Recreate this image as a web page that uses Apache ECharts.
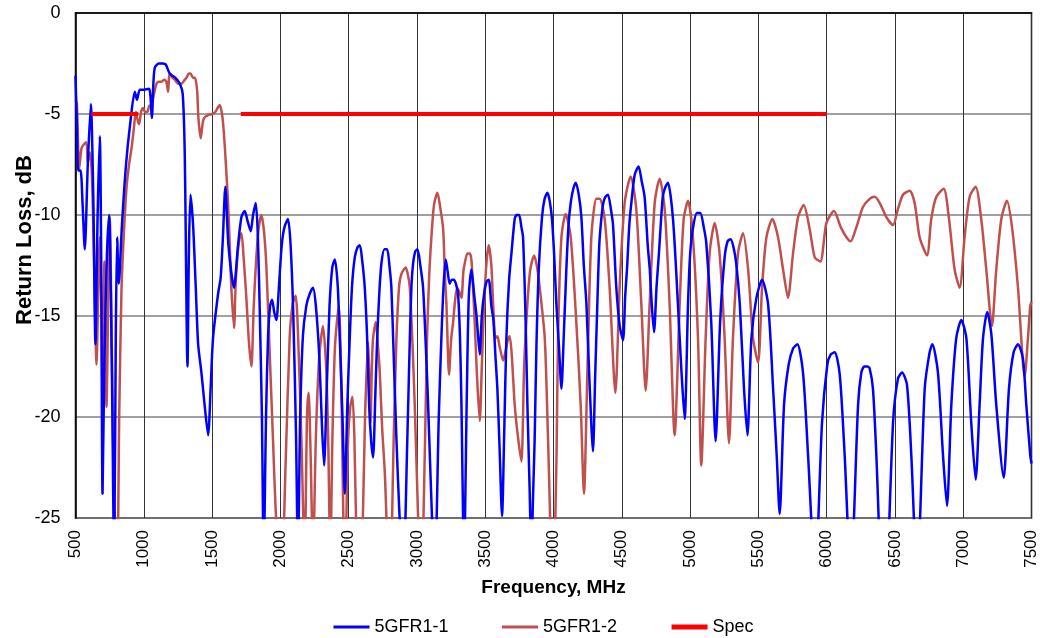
<!DOCTYPE html>
<html>
<head>
<meta charset="utf-8">
<script src="https://cdn.jsdelivr.net/npm/echarts@6/dist/echarts.min.js"></script>
<style>
  html, body { margin: 0; padding: 0; background: #fff; }
  #chart { width: 1040px; height: 638px; }
</style>
</head>
<body>
<div id="chart"></div>
<script>
// x tick values (MHz) and y tick values (dB)
const freqTicks = [500, 1000, 1500, 2000, 2500, 3000, 3500, 4000, 4500, 5000, 5500, 6000, 6500, 7000, 7500];
const lossTicks = [-25, -20, -15, -10, -5, 0];

// [frequency MHz, return loss dB]
const fr1_1 = [
  [500,-3.1],[510,-5.5],[520,-7.8],[537,-7.8],[552,-9.5],[568,-11.7],[590,-7.5],[612,-4.5],[630,-9],[646,-16.4],
  [662,-10],[678,-6.1],[688,-12],[698,-23.8],[712,-17],[730,-12],[746,-10],[765,-17],[783,-27],[795,-16],
  [805,-11.1],[817,-13.4],[840,-10.5],[870,-7.5],[900,-5.5],[934,-3.9],[950,-4.3],[971,-3.8],[1000,-3.8],[1039,-3.75],
  [1059,-5.2],[1070,-3.5],[1081,-2.7],[1110,-2.5],[1140,-2.5],[1161,-2.55],[1190,-3.0],[1230,-3.2],[1264,-3.5],[1285,-4],
  [1300,-7],[1320,-17.5],[1330,-12],[1342,-9],[1361,-10.5],[1380,-13.5],[1398,-16.4],[1422,-17.8],[1441,-19.1],[1471,-20.9],
  [1490,-18.5],[1507,-16.1],[1544,-13.9],[1563,-13.1],[1580,-11],[1597,-8.6],[1620,-11.5],[1660,-13.6],[1690,-11.5],[1715,-10.1],
  [1739,-9.8],[1760,-10.3],[1783,-10.8],[1800,-10],[1820,-9.4],[1835,-11],[1850,-15],[1865,-20],[1878,-27],[1895,-20],
  [1910,-16],[1925,-14.5],[1939,-14.2],[1955,-14.8],[1971,-15.2],[1990,-13.5],[2010,-11.5],[2030,-10.6],[2056,-10.2],[2075,-11.5],
  [2095,-15],[2115,-21],[2129,-27],[2145,-20],[2165,-16],[2190,-14.5],[2215,-13.9],[2239,-13.6],[2260,-14.5],[2285,-17],
  [2305,-20.5],[2320,-22.4],[2340,-18.5],[2360,-14.5],[2380,-12.6],[2399,-12.2],[2420,-13.5],[2435,-16.1],[2455,-20],[2472,-23.8],
  [2490,-19.5],[2508,-16.1],[2525,-13.5],[2545,-12.1],[2565,-11.6],[2582,-11.5],[2600,-12.3],[2618,-13.6],[2635,-16],[2650,-19.4],
  [2665,-21.2],[2679,-22],[2695,-19],[2709,-16.1],[2725,-13.8],[2740,-12.4],[2762,-11.7],[2782,-11.7],[2800,-12.6],[2813,-13.6],
  [2830,-17],[2850,-21.1],[2870,-24.5],[2899,-28],[2930,-21],[2948,-16.1],[2960,-13.5],[2972,-12.4],[2988,-11.8],[3004,-11.7],
  [3025,-12.5],[3045,-13.6],[3065,-16.5],[3082,-19.4],[3100,-23],[3130,-28],[3160,-20],[3179,-16.1],[3195,-13.5],[3211,-12.2],
  [3225,-12.8],[3240,-13.4],[3255,-13.2],[3270,-13.2],[3285,-13.4],[3301,-13.9],[3315,-16],[3326,-19.4],[3345,-27],[3365,-19],
  [3380,-14],[3399,-12.7],[3420,-14],[3435,-14.9],[3448,-16],[3460,-16.9],[3475,-15],[3492,-13.9],[3510,-13.3],[3526,-13.2],
  [3545,-14.5],[3560,-15.2],[3575,-17],[3589,-18.6],[3605,-21.5],[3623,-24.9],[3640,-20.5],[3655,-16.1],[3675,-13.2],[3692,-11.9],
  [3716,-10.2],[3730,-10],[3748,-10],[3765,-10.6],[3777,-11.1],[3795,-15],[3809,-19.4],[3825,-23.5],[3838,-27],[3850,-24],
  [3862,-21.1],[3875,-16.5],[3892,-12.7],[3916,-10.1],[3935,-9.2],[3955,-8.9],[3972,-9.3],[3989,-10.2],[4005,-12],[4021,-14.4],
  [4040,-16.5],[4058,-18.6],[4075,-16],[4094,-12.7],[4110,-10.5],[4126,-9.4],[4145,-8.7],[4163,-8.4],[4185,-9],[4204,-10.1],
  [4222,-12.5],[4241,-14.4],[4265,-18.5],[4289,-21.7],[4305,-18],[4321,-14.4],[4335,-11.5],[4350,-10.2],[4365,-9.4],[4380,-9.1],
  [4399,-9.0],[4420,-9.7],[4436,-10.5],[4460,-13.6],[4485,-15.5],[4509,-16.2],[4525,-14],[4538,-12.7],[4555,-10.5],[4570,-9.4],
  [4595,-8],[4623,-7.6],[4645,-8.3],[4667,-9.1],[4690,-11.5],[4705,-12.7],[4720,-14.5],[4736,-15.8],[4755,-13.5],[4772,-11.9],
  [4800,-9.1],[4820,-8.6],[4838,-8.4],[4875,-10.2],[4911,-14.4],[4935,-17.5],[4960,-20.1],[4985,-14.4],[5000,-12],[5020,-10.7],
  [5050,-9.9],[5075,-9.9],[5100,-10.6],[5119,-11.4],[5155,-15.3],[5187,-21.2],[5220,-15.3],[5253,-12.1],[5275,-11.3],[5297,-11.2],
  [5318,-11.6],[5338,-12.4],[5364,-14.4],[5395,-18.6],[5420,-20.9],[5449,-16.1],[5486,-14.1],[5527,-13.2],[5571,-14.4],[5608,-18.6],
  [5635,-22],[5656,-24.8],[5688,-19.4],[5722,-17.4],[5755,-16.6],[5786,-16.4],[5827,-17.8],[5864,-21.9],[5916,-28],[5966,-20.3],
  [6005,-17.4],[6030,-16.9],[6059,-16.8],[6096,-17.9],[6132,-21.9],[6177,-28],[6230,-19.4],[6254,-17.8],[6275,-17.5],[6298,-17.5],
  [6315,-17.6],[6339,-18.6],[6364,-21.9],[6420,-31],[6486,-20.3],[6522,-18.1],[6552,-17.8],[6588,-18.4],[6620,-21.9],[6662,-28],
  [6718,-18.6],[6754,-16.8],[6774,-16.4],[6815,-17.8],[6852,-21.9],[6881,-24.4],[6913,-19.4],[6949,-16.1],[6986,-15.2],[7023,-16.1],
  [7059,-20.3],[7091,-23.1],[7120,-19.4],[7145,-16.1],[7176,-14.8],[7206,-15.9],[7242,-19.4],[7296,-23],[7335,-18.6],[7369,-16.8],
  [7401,-16.4],[7437,-17.1],[7462,-19.4],[7491,-21.9],[7500,-22.3]
];

const fr1_2 = [
  [500,-4.3],[510,-4.5],[527,-7.7],[544,-6.7],[562,-6.5],[580,-6.4],[590,-7.4],[605,-6.9],[620,-8],[635,-12],
  [654,-17.4],[666,-14],[678,-11.1],[690,-15],[697,-18.8],[705,-15],[712,-12.3],[720,-16],[727,-19.5],[740,-14],
  [751,-10.1],[765,-16],[780,-23],[805,-28],[820,-20],[837,-13.6],[855,-10.8],[873,-8.7],[890,-7.6],[910,-6.7],
  [926,-5.8],[942,-4.9],[955,-5.3],[966,-5.5],[980,-4.9],[995,-4.7],[1010,-4.9],[1025,-4.9],[1040,-4.6],[1056,-4.55],
  [1075,-4.0],[1093,-3.5],[1110,-3.4],[1130,-3.4],[1150,-3.3],[1165,-3.4],[1178,-3.9],[1184,-3.3],[1190,-3.0],[1210,-3.2],
  [1227,-3.3],[1250,-3.5],[1276,-3.5],[1295,-3.35],[1313,-3.2],[1330,-3.0],[1342,-3.0],[1360,-3.2],[1374,-3.2],[1390,-3.8],
  [1400,-5.2],[1417,-6.2],[1430,-5.5],[1441,-5.2],[1471,-5.05],[1500,-5.0],[1524,-4.9],[1540,-4.7],[1556,-4.55],[1570,-4.9],
  [1580,-5.4],[1595,-6.8],[1617,-9.4],[1630,-11.6],[1641,-13.6],[1661,-15.6],[1672,-13.5],[1685,-12.1],[1700,-11.2],[1715,-10.9],
  [1730,-12],[1751,-14.1],[1770,-16.3],[1788,-17.5],[1805,-14.5],[1824,-12.1],[1842,-10.6],[1861,-10],[1880,-10.8],[1898,-12.6],
  [1920,-16.5],[1946,-21.1],[1965,-24.5],[2004,-29],[2040,-22],[2068,-16.1],[2090,-14.4],[2112,-14],[2135,-17],[2154,-21.1],
  [2178,-27],[2195,-20],[2207,-18.8],[2222,-22],[2239,-27],[2260,-21],[2285,-17],[2312,-15.5],[2335,-17.5],[2350,-21],
  [2366,-27],[2381,-21.1],[2400,-16.5],[2428,-14.5],[2445,-18],[2472,-28],[2496,-21.1],[2512,-19.5],[2528,-19],[2542,-21],
  [2557,-26],[2579,-30],[2601,-26],[2620,-20],[2643,-16.3],[2651,-18],[2660,-20.3],[2670,-17.5],[2679,-16.1],[2699,-15.3],
  [2715,-16.5],[2728,-17.8],[2745,-20.5],[2765,-22.8],[2801,-29],[2830,-21],[2850,-16.1],[2870,-13.5],[2887,-12.9],[2918,-12.6],
  [2935,-13],[2948,-13.6],[2965,-16],[2984,-19.4],[3000,-23],[3030,-29],[3060,-21],[3074,-16.1],[3090,-13],[3106,-11.1],
  [3125,-9.5],[3150,-8.9],[3170,-9.6],[3192,-10.7],[3205,-13],[3216,-14.4],[3235,-17.9],[3250,-16.2],[3265,-15.3],[3280,-14.2],
  [3294,-13.6],[3310,-13.8],[3326,-14.1],[3340,-12.8],[3350,-12.4],[3370,-11.9],[3387,-11.9],[3400,-12.3],[3423,-15.3],[3440,-18],
  [3460,-20.2],[3475,-17.5],[3492,-14.4],[3510,-12.3],[3526,-11.5],[3545,-12.5],[3558,-14.4],[3575,-16.1],[3589,-16],[3605,-16.5],
  [3631,-17.2],[3650,-16.7],[3665,-16.2],[3679,-16],[3695,-17],[3716,-19.4],[3740,-21],[3765,-22.2],[3785,-17.5],[3809,-14.4],
  [3830,-12.7],[3858,-12],[3880,-12.6],[3899,-13.6],[3936,-16.1],[3960,-21.1],[3996,-29],[4022,-22],[4033,-16.1],[4058,-11.1],
  [4089,-9.95],[4126,-11.1],[4167,-15.3],[4199,-19.4],[4223,-23.8],[4248,-17.8],[4277,-11.1],[4314,-9.2],[4338,-9.2],[4375,-10.2],
  [4411,-13.6],[4453,-18.8],[4484,-13.6],[4521,-9.4],[4565,-8.1],[4606,-9.7],[4643,-14.4],[4675,-18.7],[4704,-14.4],[4741,-9.4],
  [4777,-8.2],[4814,-9.7],[4850,-14.4],[4887,-20.9],[4924,-14.4],[4953,-10.2],[4985,-9.3],[5021,-11.1],[5058,-16.1],[5082,-22.4],
  [5114,-16.1],[5143,-11.9],[5180,-10.4],[5216,-11.9],[5253,-16.1],[5285,-21.3],[5314,-16.1],[5351,-11.9],[5388,-10.9],[5425,-12.7],
  [5461,-16.1],[5498,-17.3],[5527,-13.6],[5559,-11.1],[5603,-10.2],[5644,-11.1],[5681,-12.7],[5717,-14.1],[5754,-11.9],[5791,-10.1],
  [5832,-9.5],[5876,-10.7],[5913,-12.1],[5954,-12.3],[5998,-10.4],[6054,-9.8],[6103,-10.6],[6145,-11.1],[6176,-11.3],[6218,-10.6],
  [6266,-9.6],[6315,-9.2],[6352,-9.1],[6388,-9.4],[6437,-10.1],[6486,-10.5],[6522,-9.7],[6559,-9],[6608,-8.8],[6644,-9.4],
  [6681,-11.1],[6735,-12],[6766,-10.2],[6803,-9.1],[6857,-8.7],[6896,-10.2],[6937,-12.7],[6974,-13.6],[7010,-11.1],[7047,-9.1],
  [7091,-8.6],[7132,-10.2],[7169,-12.7],[7210,-15.5],[7242,-12.7],[7279,-10.2],[7320,-9.3],[7359,-10.7],[7401,-13.6],[7450,-18],
  [7474,-16.1],[7491,-14.5],[7500,-14.3]
];

// spec limit: two bands, gap in between
const spec = [[617,-5],[960,-5],[1300,'-'],[1710,-5],[6000,-5]];

const font = '"Liberation Sans", Arial, sans-serif';

var myChart = echarts.init(document.getElementById('chart'), null, { renderer: 'canvas' });

var option = {
  animation: false,
  backgroundColor: '#fff',
  grid: {
    left: 75.5,
    right: 8,
    top: 13,
    bottom: 120,
    show: true,
    borderColor: '#000',
    borderWidth: 1.5
  },
  legend: {
    left: 327,
    top: 613,
    itemWidth: 36,
    itemHeight: 14,
    itemGap: 52,
    itemStyle: { opacity: 0 }, // hide the circle, keep the line
    lineStyle: { width: 3 },
    textStyle: { fontFamily: font, fontSize: 18, color: '#000' },
    data: [
      { name: '5GFR1-1' },
      { name: '5GFR1-2' },
      { name: 'Spec', lineStyle: { width: 5 } }
    ]
  },
  xAxis: {
    type: 'value',
    min: freqTicks[0],
    max: freqTicks[freqTicks.length - 1],
    interval: 500,
    name: 'Frequency, MHz',
    nameLocation: 'middle',
    nameGap: 60,
    nameTextStyle: { fontFamily: font, fontSize: 19, fontWeight: 'bold', color: '#000' },
    axisLine: { lineStyle: { color: '#000', width: 1.5 } },
    axisTick: { show: false },
    axisLabel: {
      rotate: 90,
      margin: 12,
      fontFamily: font,
      fontSize: 17,
      color: '#000',
      formatter: function (v) { return String(v); }
    },
    splitLine: { show: true, lineStyle: { color: '#333', width: 1 } }
  },
  yAxis: {
    type: 'value',
    min: lossTicks[0],
    max: lossTicks[lossTicks.length - 1],
    interval: 5,
    axisLine: { show: true, lineStyle: { color: '#000', width: 1.5 } },
    axisTick: { show: false },
    axisLabel: { margin: 15, fontFamily: font, fontSize: 18, color: '#000' },
    splitLine: { show: true, lineStyle: { color: '#808080', width: 1.5 } }
  },
  graphic: [{
    type: 'text',
    x: 25,
    y: 240,
    rotation: Math.PI / 2,
    style: {
      text: 'Return Loss, dB',
      font: 'bold 22px ' + font,
      fill: '#000',
      align: 'center',
      verticalAlign: 'middle'
    }
  }],
  series: [
    {
      name: '5GFR1-1',
      type: 'line',
      data: fr1_1,
      symbol: 'none',
      smooth: 0.25,
      clip: true,
      lineStyle: { color: '#0000FF', width: 2.5 },
      itemStyle: { color: '#0000FF' },
      z: 3
    },
    {
      name: '5GFR1-2',
      type: 'line',
      data: fr1_2,
      symbol: 'none',
      smooth: 0.25,
      clip: true,
      lineStyle: { color: '#C0504D', width: 2.5 },
      itemStyle: { color: '#C0504D' },
      z: 2
    },
    {
      name: 'Spec',
      type: 'line',
      data: spec,
      symbol: 'none',
      connectNulls: false,
      lineStyle: { color: '#FF0000', width: 4 },
      itemStyle: { color: '#FF0000' },
      z: 4
    }
  ]
};

myChart.setOption(option);
</script>
</body>
</html>
